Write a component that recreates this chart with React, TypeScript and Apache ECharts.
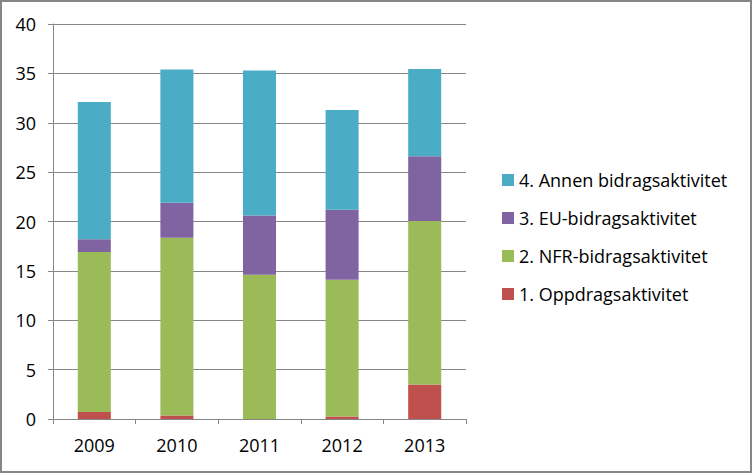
import React, { useEffect, useRef } from "react";
import * as echarts from "echarts";

const years = ["2009", "2010", "2011", "2012", "2013"];
const oppdrag = [0.7, 0.35, 0, 0.25, 3.5];
const nfr = [16.2, 18.0, 14.6, 13.85, 16.55];
const eu = [1.3, 3.55, 6.0, 7.1, 6.55];
const annen = [13.9, 13.5, 14.7, 10.1, 8.85];

const names = [
  "1. Oppdragsaktivitet",
  "2. NFR-bidragsaktivitet",
  "3. EU-bidragsaktivitet",
  "4. Annen bidragsaktivitet",
];
const colors = ["#C0504D", "#9BBB59", "#8064A2", "#4BACC6"];
const yTicks = [0, 5, 10, 15, 20, 25, 30, 35, 40];

export default function App() {
  const ref = useRef<HTMLDivElement>(null);
  useEffect(() => {
    if (!ref.current) return;
    const chart = echarts.init(ref.current, null, { renderer: "svg" });
    const font = "'Open Sans', sans-serif";
    const dataSets = [oppdrag, nfr, eu, annen];
    chart.setOption({
      animation: false,
      textStyle: { fontFamily: font },
      grid: { left: 53, right: 286, top: 24, bottom: 54, containLabel: false },
      legend: {
        orient: "vertical",
        left: 497,
        top: 166,
        itemWidth: 12,
        itemHeight: 12,
        itemGap: 20,
        icon: "rect",
        data: [names[3], names[2], names[1], names[0]],
        textStyle: { fontSize: 18, color: "#000", fontFamily: font },
      },
      xAxis: {
        type: "category",
        data: years,
        axisLine: { lineStyle: { color: "#868686", width: 1 } },
        axisTick: { show: true, length: 5, lineStyle: { color: "#868686" } },
        axisLabel: { fontSize: 18, color: "#000", margin: 17, fontFamily: font },
      },
      yAxis: {
        type: "value",
        min: 0,
        max: 40,
        interval: 5,
        axisLine: { show: true, lineStyle: { color: "#868686", width: 1 } },
        axisTick: { show: true, length: 5, lineStyle: { color: "#868686" } },
        axisLabel: { fontSize: 18, color: "#000", margin: 17, fontFamily: font,
          formatter: (v: number) => (yTicks.includes(v) ? String(v) : "") },
        splitLine: { lineStyle: { color: "#868686", width: 1 } },
      },
      series: dataSets.map((d, i) => ({
        name: names[i],
        type: "bar",
        stack: "total",
        barWidth: "40%",
        data: d,
        itemStyle: { color: colors[i] },
      })),
      graphic: [
        {
          type: "rect",
          shape: { x: 1, y: 1, width: 750, height: 471 },
          style: { fill: "none", stroke: "#868686", lineWidth: 2 },
          silent: true,
        },
      ],
    });
    return () => chart.dispose();
  }, []);
  return (
    <div
      ref={ref}
      style={{ position: "fixed", left: 0, top: 0, width: 752, height: 473, background: "#fff" }}
    />
  );
}
